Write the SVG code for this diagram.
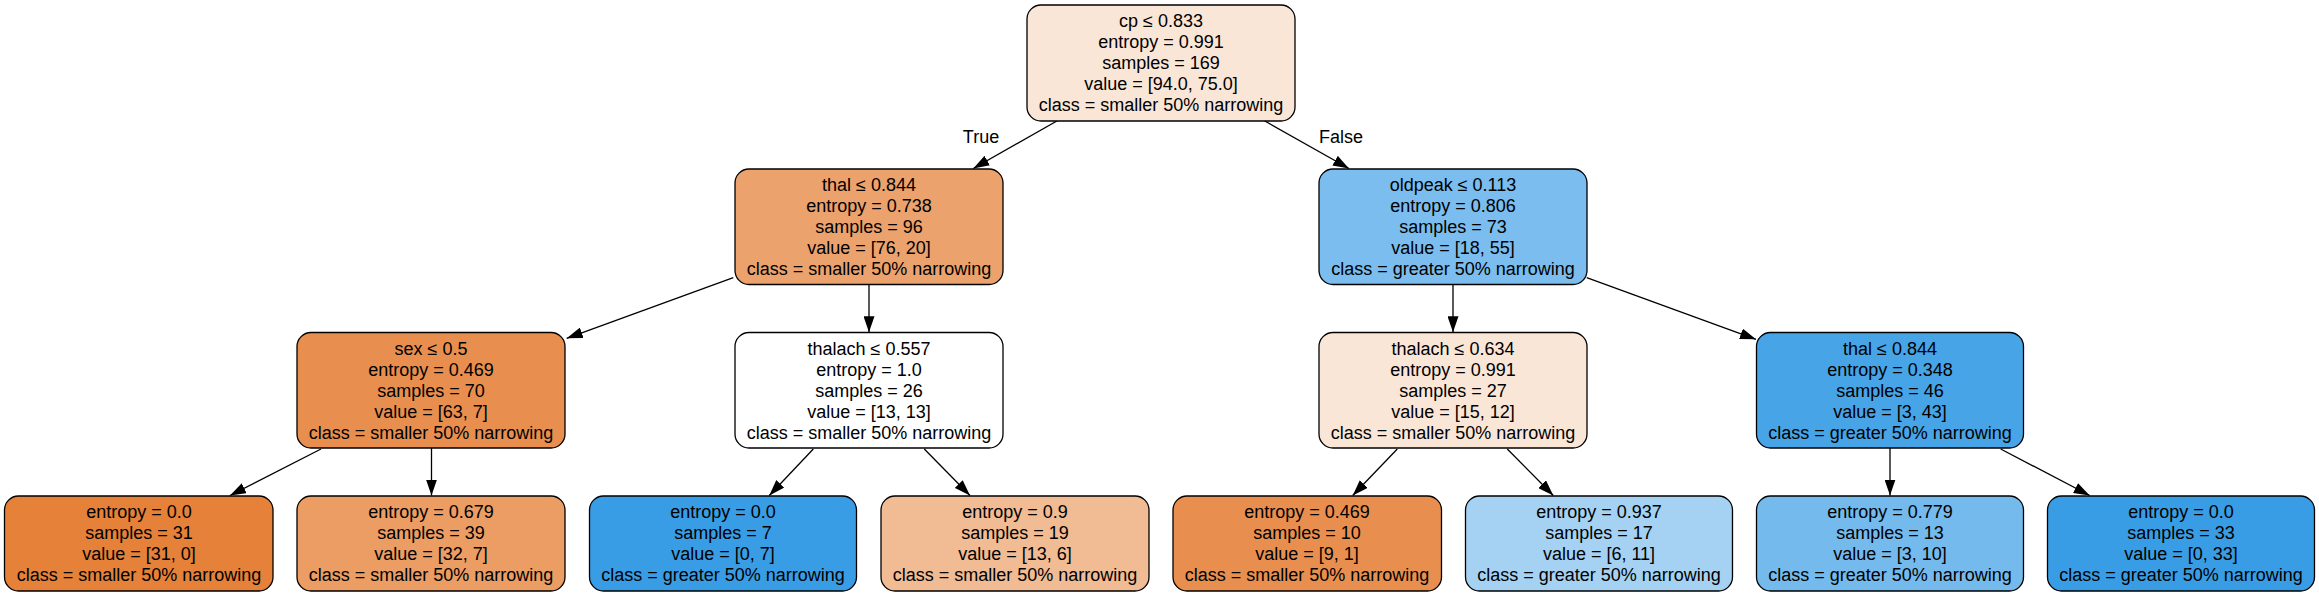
<svg xmlns="http://www.w3.org/2000/svg" width="2319" height="596" viewBox="0 0 2319 596">
<style>
.n rect{stroke:#000;stroke-width:1.3}
text{font-family:"Liberation Sans",Arial,sans-serif;font-size:18px;fill:#000;text-anchor:middle}
.e line{stroke:#000;stroke-width:1.3;marker-end:url(#ah)}
</style>
<defs>
<marker id="ah" markerUnits="userSpaceOnUse" markerWidth="16" markerHeight="11" refX="16" refY="5.5" orient="auto" viewBox="0 0 16 11">
<path d="M0,0 L16,5.5 L0,11 z" fill="#000"/>
</marker>
</defs>
<rect width="2319" height="596" fill="#fff"/>
<g class="e" id="connectors">
<line x1="1057.3" y1="120.7" x2="973.3" y2="168.5"/>
<line x1="1264.3" y1="120.7" x2="1349" y2="168.5"/>
<line x1="733.3" y1="277.7" x2="566.7" y2="338.3"/>
<line x1="869" y1="284.3" x2="869" y2="332.3"/>
<line x1="1453" y1="284.3" x2="1453" y2="332.3"/>
<line x1="1586.7" y1="277.7" x2="1756" y2="339.3"/>
<line x1="321" y1="449" x2="230" y2="495.5"/>
<line x1="431.5" y1="448" x2="431.5" y2="495.5"/>
<line x1="813.3" y1="449" x2="769.3" y2="495.5"/>
<line x1="924.3" y1="449" x2="970" y2="495.5"/>
<line x1="1397.3" y1="449" x2="1352.7" y2="495.5"/>
<line x1="1507.3" y1="449" x2="1553.3" y2="495.5"/>
<line x1="1890" y1="448" x2="1890" y2="495.5"/>
<line x1="2000.7" y1="449" x2="2089.7" y2="495.5"/>
<text x="981" y="143">True</text>
<text x="1341" y="143">False</text>
</g>
<g class="n" id="node0">
<rect x="1027" y="5" width="268" height="116" rx="14" fill="#fae6d7"/>
<text x="1161" y="27">cp ≤ 0.833</text>
<text x="1161" y="48">entropy = 0.991</text>
<text x="1161" y="69">samples = 169</text>
<text x="1161" y="90">value = [94.0, 75.0]</text>
<text x="1161" y="111">class = smaller 50% narrowing</text>
</g>
<g class="n" id="node1">
<rect x="735" y="169" width="268" height="115.5" rx="14" fill="#eca26d"/>
<text x="869" y="191">thal ≤ 0.844</text>
<text x="869" y="212">entropy = 0.738</text>
<text x="869" y="233">samples = 96</text>
<text x="869" y="254">value = [76, 20]</text>
<text x="869" y="275">class = smaller 50% narrowing</text>
</g>
<g class="n" id="node8">
<rect x="1319" y="169" width="268" height="115.5" rx="14" fill="#7abdee"/>
<text x="1453" y="191">oldpeak ≤ 0.113</text>
<text x="1453" y="212">entropy = 0.806</text>
<text x="1453" y="233">samples = 73</text>
<text x="1453" y="254">value = [18, 55]</text>
<text x="1453" y="275">class = greater 50% narrowing</text>
</g>
<g class="n" id="node2">
<rect x="297" y="332.5" width="268" height="115.5" rx="14" fill="#e88f4f"/>
<text x="431" y="354.5">sex ≤ 0.5</text>
<text x="431" y="375.5">entropy = 0.469</text>
<text x="431" y="396.5">samples = 70</text>
<text x="431" y="417.5">value = [63, 7]</text>
<text x="431" y="438.5">class = smaller 50% narrowing</text>
</g>
<g class="n" id="node5">
<rect x="735" y="332.5" width="268" height="115.5" rx="14" fill="#ffffff"/>
<text x="869" y="354.5">thalach ≤ 0.557</text>
<text x="869" y="375.5">entropy = 1.0</text>
<text x="869" y="396.5">samples = 26</text>
<text x="869" y="417.5">value = [13, 13]</text>
<text x="869" y="438.5">class = smaller 50% narrowing</text>
</g>
<g class="n" id="node9">
<rect x="1319" y="332.5" width="268" height="115.5" rx="14" fill="#fae6d7"/>
<text x="1453" y="354.5">thalach ≤ 0.634</text>
<text x="1453" y="375.5">entropy = 0.991</text>
<text x="1453" y="396.5">samples = 27</text>
<text x="1453" y="417.5">value = [15, 12]</text>
<text x="1453" y="438.5">class = smaller 50% narrowing</text>
</g>
<g class="n" id="node12">
<rect x="1756.5" y="332.5" width="267" height="115.5" rx="14" fill="#47a4e7"/>
<text x="1890" y="354.5">thal ≤ 0.844</text>
<text x="1890" y="375.5">entropy = 0.348</text>
<text x="1890" y="396.5">samples = 46</text>
<text x="1890" y="417.5">value = [3, 43]</text>
<text x="1890" y="438.5">class = greater 50% narrowing</text>
</g>
<g class="n" id="node3">
<rect x="4.5" y="496" width="268.5" height="95" rx="14" fill="#e58139"/>
<text x="139" y="518">entropy = 0.0</text>
<text x="139" y="539">samples = 31</text>
<text x="139" y="560">value = [31, 0]</text>
<text x="139" y="581">class = smaller 50% narrowing</text>
</g>
<g class="n" id="node4">
<rect x="297" y="496" width="268" height="95" rx="14" fill="#eb9d64"/>
<text x="431" y="518">entropy = 0.679</text>
<text x="431" y="539">samples = 39</text>
<text x="431" y="560">value = [32, 7]</text>
<text x="431" y="581">class = smaller 50% narrowing</text>
</g>
<g class="n" id="node6">
<rect x="589.5" y="496" width="267" height="95" rx="14" fill="#399de5"/>
<text x="723" y="518">entropy = 0.0</text>
<text x="723" y="539">samples = 7</text>
<text x="723" y="560">value = [0, 7]</text>
<text x="723" y="581">class = greater 50% narrowing</text>
</g>
<g class="n" id="node7">
<rect x="881" y="496" width="268" height="95" rx="14" fill="#f1bb94"/>
<text x="1015" y="518">entropy = 0.9</text>
<text x="1015" y="539">samples = 19</text>
<text x="1015" y="560">value = [13, 6]</text>
<text x="1015" y="581">class = smaller 50% narrowing</text>
</g>
<g class="n" id="node10">
<rect x="1173" y="496" width="268.5" height="95" rx="14" fill="#e88f4f"/>
<text x="1307" y="518">entropy = 0.469</text>
<text x="1307" y="539">samples = 10</text>
<text x="1307" y="560">value = [9, 1]</text>
<text x="1307" y="581">class = smaller 50% narrowing</text>
</g>
<g class="n" id="node11">
<rect x="1465.5" y="496" width="267" height="95" rx="14" fill="#a5d2f3"/>
<text x="1599" y="518">entropy = 0.937</text>
<text x="1599" y="539">samples = 17</text>
<text x="1599" y="560">value = [6, 11]</text>
<text x="1599" y="581">class = greater 50% narrowing</text>
</g>
<g class="n" id="node13">
<rect x="1756.5" y="496" width="267" height="95" rx="14" fill="#74baed"/>
<text x="1890" y="518">entropy = 0.779</text>
<text x="1890" y="539">samples = 13</text>
<text x="1890" y="560">value = [3, 10]</text>
<text x="1890" y="581">class = greater 50% narrowing</text>
</g>
<g class="n" id="node14">
<rect x="2047.5" y="496" width="267" height="95" rx="14" fill="#399de5"/>
<text x="2181" y="518">entropy = 0.0</text>
<text x="2181" y="539">samples = 33</text>
<text x="2181" y="560">value = [0, 33]</text>
<text x="2181" y="581">class = greater 50% narrowing</text>
</g>
</svg>
